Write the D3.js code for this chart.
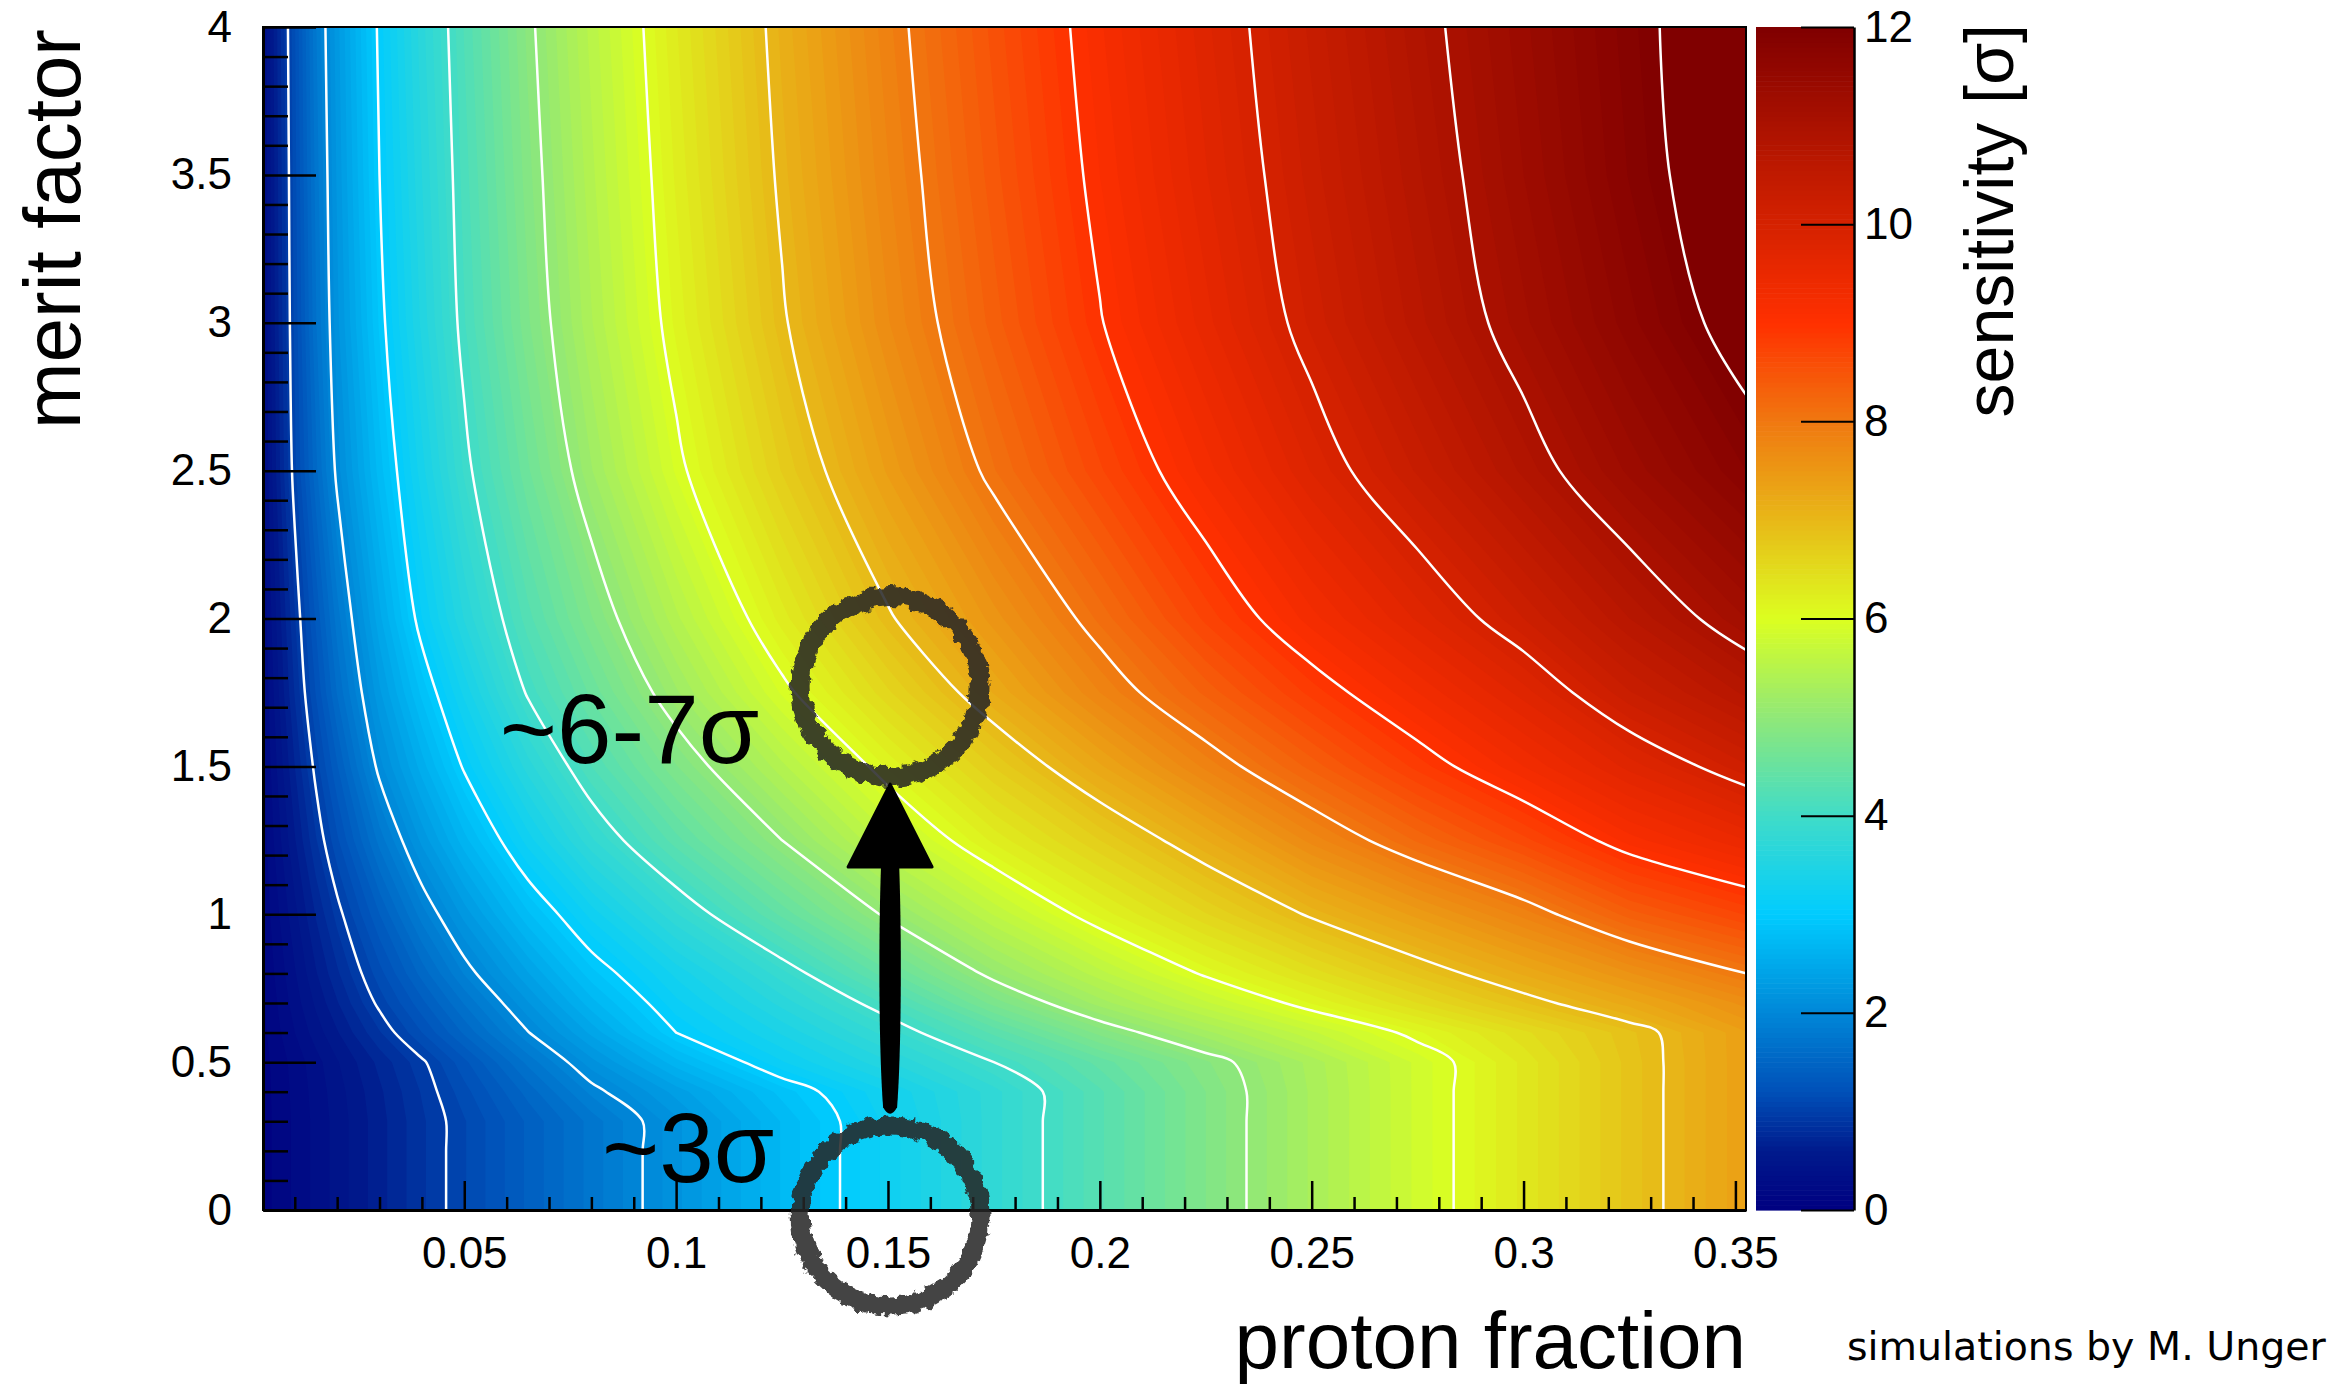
<!DOCTYPE html>
<html>
<head>
<meta charset="utf-8">
<title>proton fraction sensitivity</title>
<script src="https://cdn.jsdelivr.net/npm/d3@7"></script>
<style>
  html, body { margin: 0; padding: 0; background: #fff; }
  svg { display: block; }
  .axis text { font-family: "Liberation Sans", Arial, Helvetica, sans-serif; font-size: 44px; fill: #000; }
  .axis line { stroke: #000; stroke-width: 2.5; }
  .axis path.domain { stroke: #000; stroke-width: 3; }
  .title { font-family: "Liberation Sans", Arial, Helvetica, sans-serif; fill: #000; }
</style>
</head>
<body>
<svg id="chart" width="2349" height="1384"></svg>
<script>
// grid columns: proton fraction
const fractions = [0.0025, 0.005, 0.01, 0.015, 0.02, 0.03, 0.04, 0.05, 0.065, 0.08, 0.1,
  0.125, 0.15, 0.175, 0.2, 0.225, 0.25, 0.275, 0.3, 0.325, 0.3525];
// grid rows: merit factor
const merits = [0, 0.1, 0.2, 0.3, 0.4, 0.5, 0.6, 0.7, 0.8, 1.0, 1.25, 1.5, 1.75, 2.0, 2.5, 3.0, 3.5, 4.0];
// sensitivity [sigma], one row per merit factor
const sensitivity = [
  [0.055, 0.11, 0.22, 0.33, 0.44, 0.66, 0.88, 1.09, 1.42, 1.74, 2.17, 2.71, 3.24, 3.76, 4.28, 4.80, 5.32, 5.83, 6.33, 6.84, 7.39],
  [0.055, 0.11, 0.22, 0.33, 0.44, 0.66, 0.88, 1.09, 1.42, 1.74, 2.17, 2.71, 3.24, 3.76, 4.28, 4.80, 5.32, 5.83, 6.33, 6.84, 7.39],
  [0.055, 0.11, 0.22, 0.33, 0.44, 0.66, 0.88, 1.09, 1.42, 1.74, 2.17, 2.71, 3.24, 3.76, 4.28, 4.80, 5.32, 5.83, 6.33, 6.84, 7.39],
  [0.055, 0.11, 0.22, 0.33, 0.44, 0.66, 0.88, 1.09, 1.42, 1.74, 2.17, 2.71, 3.24, 3.76, 4.28, 4.80, 5.32, 5.83, 6.33, 6.84, 7.39],
  [0.057, 0.114, 0.228, 0.34, 0.455, 0.68, 0.91, 1.16, 1.54, 1.93, 2.34, 2.84, 3.30, 3.76, 4.28, 4.80, 5.32, 5.83, 6.33, 6.84, 7.39],
  [0.061, 0.12, 0.24, 0.36, 0.49, 0.73, 0.97, 1.27, 1.73, 2.16, 2.66, 3.19, 3.59, 4.00, 4.44, 4.88, 5.34, 5.83, 6.33, 6.84, 7.39],
  [0.074, 0.15, 0.30, 0.45, 0.59, 0.89, 1.20, 1.52, 1.99, 2.43, 3.00, 3.42, 3.85, 4.33, 4.84, 5.27, 5.68, 6.08, 6.47, 6.87, 7.39],
  [0.087, 0.17, 0.35, 0.52, 0.69, 1.04, 1.37, 1.71, 2.19, 2.66, 3.17, 3.64, 4.13, 4.74, 5.25, 5.68, 6.11, 6.50, 6.89, 7.25, 7.64],
  [0.098, 0.195, 0.39, 0.59, 0.78, 1.16, 1.54, 1.91, 2.39, 2.86, 3.33, 3.86, 4.47, 5.08, 5.56, 6.04, 6.44, 6.84, 7.22, 7.59, 8.00],
  [0.12, 0.24, 0.47, 0.71, 0.94, 1.40, 1.85, 2.24, 2.78, 3.24, 3.79, 4.43, 5.05, 5.61, 6.14, 6.59, 7.04, 7.44, 7.84, 8.35, 8.71],
  [0.15, 0.30, 0.59, 0.89, 1.18, 1.74, 2.23, 2.66, 3.25, 3.78, 4.36, 5.00, 5.66, 6.23, 6.70, 7.20, 7.74, 8.22, 8.66, 9.15, 9.50],
  [0.17, 0.35, 0.70, 1.05, 1.39, 2.06, 2.55, 3.03, 3.65, 4.20, 4.79, 5.47, 6.12, 6.71, 7.28, 7.83, 8.34, 8.84, 9.30, 9.74, 10.18],
  [0.20, 0.40, 0.81, 1.21, 1.61, 2.28, 2.83, 3.33, 4.03, 4.53, 5.18, 5.92, 6.58, 7.21, 7.80, 8.33, 8.84, 9.30, 9.75, 10.29, 10.73],
  [0.22, 0.45, 0.89, 1.32, 1.75, 2.47, 3.10, 3.61, 4.26, 4.79, 5.47, 6.25, 6.96, 7.55, 8.13, 8.73, 9.26, 9.72, 10.20, 10.70, 11.20],
  [0.27, 0.54, 1.07, 1.57, 2.05, 2.75, 3.36, 3.92, 4.58, 5.19, 5.92, 6.71, 7.42, 8.09, 8.68, 9.25, 9.81, 10.32, 10.83, 11.33, 11.80],
  [0.28, 0.57, 1.13, 1.69, 2.17, 2.92, 3.53, 4.09, 4.78, 5.39, 6.13, 6.96, 7.69, 8.35, 8.98, 9.56, 10.13, 10.66, 11.17, 11.66, 12.19],
  [0.29, 0.58, 1.16, 1.74, 2.22, 3.00, 3.60, 4.15, 4.86, 5.47, 6.22, 7.06, 7.79, 8.46, 9.10, 9.69, 10.25, 10.78, 11.30, 11.81, 12.36],
  [0.30, 0.60, 1.19, 1.79, 2.26, 3.05, 3.66, 4.21, 4.93, 5.54, 6.29, 7.13, 7.87, 8.54, 9.18, 9.77, 10.33, 10.87, 11.37, 11.86, 12.40]
];

// axis ticks
const xMajorTicks = [0.05, 0.1, 0.15, 0.2, 0.25, 0.3, 0.35];
const yMajorTicks = [0, 0.5, 1, 1.5, 2, 2.5, 3, 3.5, 4];
const zTicks = [0, 2, 4, 6, 8, 10, 12];
const contourLevels = [1, 2, 3, 4, 5, 6, 7, 8, 9, 10, 11, 12];

// annotations, in data coordinates
const upperMark = { f: 0.1505, m: 1.77 };
const lowerMark = { f: 0.1505, m: -0.02 };
const arrowSpan = { from: 0.32, base: 1.16, tip: 1.44 };
const upperLabel = { f: 0.0584, m: 1.511, text: '~6-7σ' };
const lowerLabel = { f: 0.0825, m: 0.095, text: '~3σ' };

const plot = { left: 263, right: 1746, top: 27, bottom: 1210 };
const bar = { left: 1756, right: 1854 };

const x = d3.scaleLinear().domain([0.0025, 0.3525]).range([plot.left, plot.right]);
const y = d3.scaleLinear().domain([0, 4]).range([plot.bottom, plot.top]);
const z = d3.scaleLinear().domain([0, 12]).range([plot.bottom, plot.top]);

// rainbow palette as seen on the colour bar
const palette = d3.scaleLinear()
  .domain([0, 0.6, 1.2, 3, 4, 5, 6, 7, 8, 9, 10.5, 12])
  .range(['#000080', '#001a8c', '#0050b8', '#00ccff', '#40dcc8', '#90e878',
          '#dcff20', '#e8b818', '#f07810', '#ff3000', '#c01a00', '#800000'])
  .clamp(true);

const nx = fractions.length, ny = merits.length;
const values = sensitivity.flat();

// d3.contours puts sample i at i + 0.5; map grid coords back to data space
const colToF = d3.scaleLinear().domain(d3.range(nx)).range(fractions).clamp(true);
const rowToM = d3.scaleLinear().domain(d3.range(ny)).range(merits).clamp(true);
const project = ([cx, cy]) => [x(colToF(cx - 0.5)), y(rowToM(cy - 0.5))];
const pt = p => { const q = project(p); return q[0].toFixed(2) + ',' + q[1].toFixed(2); };

function areaPath(geom) {
  return geom.coordinates.map(poly =>
    poly.map(ring => 'M' + ring.map(pt).join('L') + 'Z').join('')
  ).join('');
}

// contour outline without the pieces that run along the frame, smoothed
const side = ([cx, cy]) => [
  cx <= 0.5 ? 'l' : cx >= nx - 0.5 ? 'r' : '',
  cy <= 0.5 ? 'b' : cy >= ny - 0.5 ? 't' : ''
];
const onFrame = (a, b) => {
  const sa = side(a), sb = side(b);
  return (sa[0] && sa[0] === sb[0]) || (sa[1] && sa[1] === sb[1]);
};
const smoothLine = d3.line().curve(d3.curveCatmullRom.alpha(0.5));

function linePath(geom) {
  let d = '';
  geom.coordinates.forEach(poly => poly.forEach(closed => {
    let ring = closed.slice(0, -1);
    const n = ring.length;
    // start the walk right after a frame segment so runs are not split
    let start = 0;
    for (let i = 0; i < n; i++) {
      if (onFrame(ring[(i + n - 1) % n], ring[i])) { start = i; break; }
    }
    ring = ring.slice(start).concat(ring.slice(0, start));
    ring.push(ring[0]);
    let run = [];
    const flush = () => { if (run.length > 1) d += smoothLine(run.map(project)); run = []; };
    for (let i = 1; i < ring.length; i++) {
      const a = ring[i - 1], b = ring[i];
      if (onFrame(a, b)) { flush(); continue; }
      if (!run.length) run.push(a);
      run.push(b);
    }
    flush();
  }));
  return d;
}

const svg = d3.select('#chart');
const defs = svg.append('defs');
defs.append('clipPath').attr('id', 'plot-clip').append('rect')
  .attr('x', plot.left).attr('y', plot.top)
  .attr('width', plot.right - plot.left).attr('height', plot.bottom - plot.top);

const rough = defs.append('filter').attr('id', 'rough')
  .attr('x', '-20%').attr('y', '-20%').attr('width', '140%').attr('height', '140%');
rough.append('feTurbulence').attr('type', 'fractalNoise').attr('baseFrequency', 0.11)
  .attr('numOctaves', 3).attr('seed', 7).attr('result', 'noise');
rough.append('feDisplacementMap').attr('in', 'SourceGraphic').attr('in2', 'noise')
  .attr('scale', 11).attr('xChannelSelector', 'R').attr('yChannelSelector', 'G');

// colour map as stacked iso-bands
const bandLevels = d3.range(0, 12.45, 0.1);
const bands = d3.contours().size([nx, ny]).thresholds(bandLevels)(values);
const isolines = d3.contours().size([nx, ny]).thresholds(contourLevels)(values);

const heat = svg.append('g').attr('clip-path', 'url(#plot-clip)');
heat.selectAll('path.band')
  .data(bands)
  .join('path')
  .attr('class', 'band')
  .attr('d', areaPath)
  .attr('fill-rule', 'evenodd')
  .attr('fill', d => palette(d.value + 0.05));

heat.selectAll('path.iso')
  .data(isolines)
  .join('path')
  .attr('class', 'iso')
  .attr('d', linePath)
  .attr('fill', 'none')
  .attr('stroke', '#fff')
  .attr('stroke-width', 2.5)
  .attr('stroke-linejoin', 'round');

svg.append('rect')
  .attr('x', plot.left).attr('y', plot.top)
  .attr('width', plot.right - plot.left).attr('height', plot.bottom - plot.top)
  .attr('fill', 'none').attr('stroke', '#000').attr('stroke-width', 2);

// axes, ROOT style: ticks point into the frame
const fmt = d3.format('~g');
const xMinorTicks = d3.range(1, 36).filter(i => i % 5 !== 0).map(i => i / 100);
const yMinorTicks = d3.range(1, 40).filter(i => i % 5 !== 0).map(i => i / 10);

svg.append('g').attr('class', 'axis').attr('transform', `translate(0,${plot.bottom})`)
  .call(d3.axisBottom(x).tickValues(xMinorTicks).tickSize(-13).tickSizeOuter(0).tickFormat(''))
  .call(g => g.select('.domain').remove());
const gx = svg.append('g').attr('class', 'axis').attr('transform', `translate(0,${plot.bottom})`)
  .call(d3.axisBottom(x).tickValues(xMajorTicks).tickSize(-29).tickSizeOuter(0).tickFormat(fmt));
gx.selectAll('text').attr('y', 58).attr('dy', null);

svg.append('g').attr('class', 'axis').attr('transform', `translate(${plot.left},0)`)
  .call(d3.axisLeft(y).tickValues(yMinorTicks).tickSize(-25).tickSizeOuter(0).tickFormat(''))
  .call(g => g.select('.domain').remove());
svg.append('g').attr('class', 'axis').attr('transform', `translate(${plot.left},0)`)
  .call(d3.axisLeft(y).tickValues(yMajorTicks).tickSize(-53).tickSizeOuter(0).tickPadding(31).tickFormat(fmt));

// colour bar
const barSteps = d3.range(0, 12, 0.05);
svg.append('g').selectAll('rect')
  .data(barSteps)
  .join('rect')
  .attr('x', bar.left)
  .attr('width', bar.right - bar.left)
  .attr('y', d => z(d + 0.05))
  .attr('height', d => z(d) - z(d + 0.05) + 0.6)
  .attr('fill', d => palette(d + 0.025));

const gz = svg.append('g').attr('class', 'axis').attr('transform', `translate(${bar.right},0)`)
  .call(d3.axisRight(z).tickValues(zTicks).tickSize(-53).tickSizeOuter(0).tickPadding(10).tickFormat(fmt));
gz.selectAll('line').style('stroke-width', 2);
gz.select('.domain').style('stroke-width', 2.5);

// titles
svg.append('text').attr('class', 'title')
  .attr('transform', 'translate(80,29) rotate(-90)')
  .attr('text-anchor', 'end').attr('font-size', 80)
  .text('merit factor');
svg.append('text').attr('class', 'title')
  .attr('x', plot.right).attr('y', 1368)
  .attr('text-anchor', 'end').attr('font-size', 80)
  .text('proton fraction');
svg.append('text').attr('class', 'title')
  .attr('transform', 'translate(2013,24) rotate(-90)')
  .attr('text-anchor', 'end').attr('font-size', 68)
  .text('sensitivity [σ]');
svg.append('text')
  .attr('x', 1847).attr('y', 1360)
  .attr('font-family', '"DejaVu Sans", Verdana, sans-serif').attr('font-size', 39.5)
  .attr('fill', '#000')
  .text('simulations by M. Unger');

// hand-drawn annotations
const notes = svg.append('g');
notes.selectAll('circle')
  .data([upperMark, lowerMark])
  .join('circle')
  .attr('cx', d => x(d.f)).attr('cy', d => y(d.m)).attr('r', 90)
  .attr('fill', 'none')
  .attr('stroke', '#262626').attr('stroke-opacity', 0.86).attr('stroke-width', 19)
  .attr('filter', 'url(#rough)');

const ax = x(upperMark.f);
const yTip = y(arrowSpan.tip), yBase = y(arrowSpan.base), yEnd = y(arrowSpan.from);
notes.append('path')
  .attr('d', `M${ax},${yTip} L${ax + 42},${yBase} L${ax - 42},${yBase} Z`)
  .attr('fill', '#000').attr('stroke', '#000').attr('stroke-width', 3).attr('stroke-linejoin', 'round');
notes.append('path')
  .attr('d', `M${ax - 9},${yBase - 4} L${ax + 9},${yBase - 4}
    C${ax + 12},${yBase + 80} ${ax + 11},${yEnd - 60} ${ax + 7},${yEnd - 8}
    Q${ax},${yEnd + 5} ${ax - 7},${yEnd - 8}
    C${ax - 11},${yEnd - 60} ${ax - 12},${yBase + 80} ${ax - 9},${yBase - 4} Z`)
  .attr('fill', '#000');

notes.selectAll('text')
  .data([upperLabel, lowerLabel])
  .join('text')
  .attr('x', d => x(d.f)).attr('y', d => y(d.m))
  .attr('font-family', '"Liberation Sans", Arial, Helvetica, sans-serif')
  .attr('font-size', 98)
  .attr('fill', '#000')
  .text(d => d.text);
</script>
</body>
</html>
